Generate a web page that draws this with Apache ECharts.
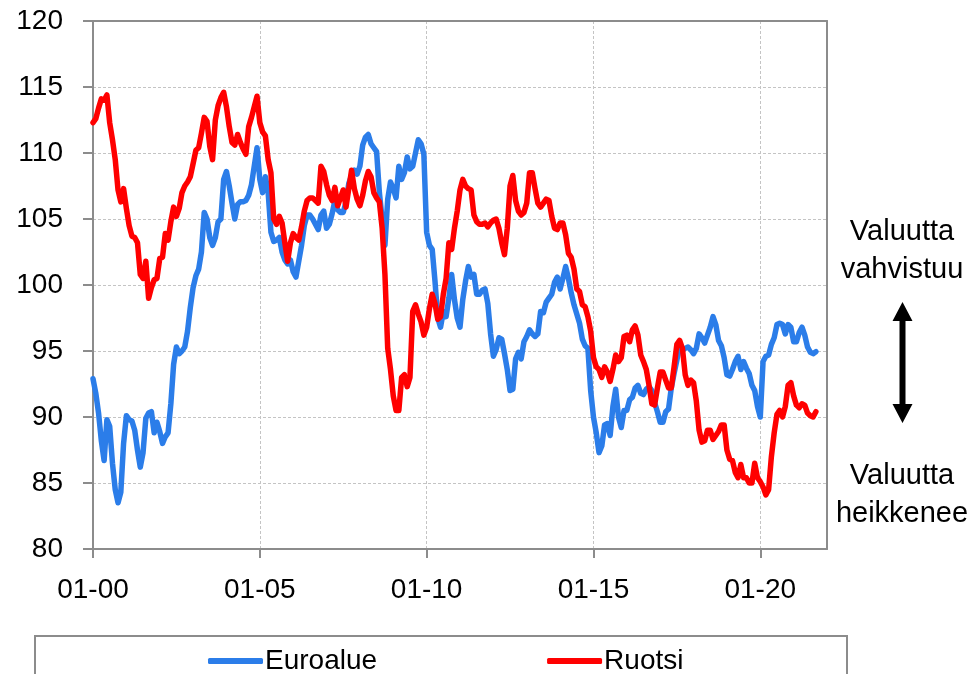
<!DOCTYPE html>
<html>
<head>
<meta charset="utf-8">
<script src="https://cdn.jsdelivr.net/npm/echarts@6/dist/echarts.min.js"></script>
<style>
  html, body { margin: 0; padding: 0; background: #fff; }
  #chart { width: 978px; height: 674px; }
</style>
</head>
<body>
<div id="chart"></div>
<script>
// kuukausittaiset arvot 01-2000 ... 09-2021
const euroalue = [
  92.9, 91.8, 90.3, 88.2, 86.7, 89.8, 89.3, 86.5, 84.5, 83.5, 84.3, 88.0,
  90.1, 89.8, 89.7, 89.0, 87.5, 86.2, 87.3, 89.9, 90.3, 90.4, 88.8, 89.6,
  88.9, 88.0, 88.5, 88.8, 91.0, 94.0, 95.3, 94.8, 95.0, 95.3, 96.5, 98.3,
  99.8, 100.7, 101.2, 102.5, 105.5, 105.0, 103.6, 103.0, 103.6, 104.8, 105.0, 108.0,
  108.6, 107.5, 106.2, 105.0, 106.1, 106.3, 106.3, 106.4, 106.8, 107.6, 109.0, 110.4,
  108.0, 107.0, 108.2, 107.0, 104.0, 103.3, 103.4, 103.6, 102.5, 101.9, 101.6, 101.9,
  101.0, 100.6, 101.8, 103.0, 104.5, 105.3, 105.3, 105.0, 104.6, 104.2, 105.3, 105.6,
  104.3, 104.6, 105.4, 106.4, 105.7, 105.5, 105.5, 106.3, 107.7, 108.3, 108.7, 108.4,
  109.0, 110.6, 111.2, 111.4, 110.7, 110.4, 110.1, 107.0, 105.0, 103.0, 106.5, 107.8,
  107.3, 106.6, 109.0, 108.0, 108.5, 109.7, 108.8, 109.0, 110.0, 111.0, 110.7, 109.9,
  104.0, 103.0, 102.7, 100.3, 97.5, 96.8, 98.0, 97.6, 99.0, 100.8, 98.9, 97.5,
  96.8, 98.9, 100.3, 101.4, 100.6, 100.8, 99.3, 99.3, 99.6, 99.7, 98.6, 96.3,
  94.6, 95.1, 96.0, 95.9, 94.8, 93.6, 92.0, 92.1, 94.4, 94.9, 94.4, 95.7,
  96.1, 96.6, 96.3, 96.1, 96.3, 98.0, 97.9, 98.7, 99.0, 99.3, 100.2, 100.6,
  99.7, 100.5, 101.4, 100.5, 99.4, 98.5, 97.8, 97.1, 95.9, 95.4, 95.2, 92.0,
  90.0, 88.8, 87.3, 87.8, 89.4, 89.5, 88.6, 90.8, 92.1, 90.0, 89.2, 90.5,
  90.5, 91.3, 91.5, 92.2, 92.4, 91.8, 91.7, 92.1, 92.3, 92.0, 91.1, 90.4,
  89.6, 89.6, 90.4, 90.6, 92.2, 93.3, 94.3, 95.4, 95.1, 95.2, 95.3, 95.1,
  94.8, 95.2, 96.3, 96.0, 95.6, 96.2, 96.8, 97.6, 97.0, 95.8, 95.4, 94.5,
  93.2, 93.1, 93.6, 94.2, 94.6, 93.6, 94.2, 93.7, 93.3, 92.4, 92.0, 90.8,
  90.0, 94.2, 94.6, 94.7, 95.5, 96.0, 97.0, 97.1, 97.0, 96.3, 97.0, 96.8,
  95.7, 95.7, 96.4, 96.8, 96.2, 95.3, 94.9, 94.8, 94.95
]

const ruotsi = [
  112.3, 112.6, 113.4, 114.1, 114.0, 114.4, 112.3, 111.0, 109.5, 107.2, 106.3, 107.3,
  105.8, 104.5, 103.7, 103.6, 103.2, 100.8, 100.5, 101.8, 99.0, 99.8, 100.4, 100.5,
  102.0, 102.1, 103.9, 103.4, 104.8, 105.9, 105.2, 105.8, 107.0, 107.5, 107.8, 108.2,
  109.2, 110.2, 110.4, 111.5, 112.7, 112.4, 110.5, 109.5, 112.5, 113.6, 114.2, 114.6,
  113.5, 112.0, 110.8, 110.6, 111.4, 110.8, 110.3, 109.9, 112.0, 112.7, 113.5, 114.3,
  112.3, 111.6, 111.3, 109.5, 108.5, 105.0, 104.6, 105.2, 104.7, 103.2, 101.8, 103.2,
  103.9, 103.6, 103.4, 104.4, 105.6, 106.4, 106.6, 106.6, 106.4, 106.2, 109.0, 108.6,
  107.6, 106.8, 106.4, 107.4, 106.0, 106.6, 107.2, 105.9, 107.3, 108.7, 107.3, 106.5,
  106.0, 106.8, 107.9, 108.6, 108.2, 107.0, 106.6, 106.3, 104.3, 100.8, 95.2, 93.6,
  91.6, 90.5, 90.5, 93.0, 93.2, 92.3, 93.0, 98.0, 98.5, 97.8, 97.2, 96.2,
  96.8, 98.2, 99.3, 98.6, 97.4, 97.6, 99.3, 100.5, 103.2, 102.7, 104.3, 105.6,
  107.2, 108.0, 107.5, 107.3, 107.2, 105.3, 104.8, 104.6, 104.6, 104.7, 104.4, 104.7,
  104.9, 105.0, 104.3, 103.2, 102.3, 104.3, 107.5, 108.3, 106.4, 105.6, 105.3, 105.5,
  106.2, 108.5, 108.5, 107.3, 106.2, 105.9, 106.2, 106.5, 106.4, 105.2, 104.3, 104.2,
  104.7, 104.7, 103.8, 102.4, 102.1, 101.2, 99.7, 99.5, 98.5, 98.35, 97.6, 96.5,
  94.5, 93.8, 93.6, 93.0, 93.8, 93.4, 92.7, 93.6, 94.7, 94.2, 94.5, 96.1,
  96.2, 95.7, 96.6, 96.9, 96.2, 94.7, 94.2, 93.6, 92.4, 91.0, 90.9, 92.2,
  93.4, 93.4, 92.8, 92.2, 92.2, 93.8, 95.5, 95.8, 95.2, 93.2, 92.4, 92.8,
  92.6, 91.2, 89.0, 88.1, 88.2, 89.0, 89.0, 88.3, 88.6, 88.9, 89.4, 89.4,
  87.5, 86.8, 86.7, 85.8, 85.4, 86.4, 85.4, 85.4, 85.0, 85.0, 86.5, 85.4,
  85.1, 84.7, 84.1, 84.5, 87.0, 88.8, 90.2, 90.5, 90.0, 90.8, 92.4, 92.6,
  91.6, 90.9, 90.7, 91.0, 90.9, 90.3, 90.1, 90.0, 90.4
]

// x-akseli: kuukaudet 01-00 ... 01-22
const months = []
for (let y = 0; y <= 22; y++) {
  for (let m = 1; m <= 12; m++) {
    if (y === 22 && m > 1) break
    months.push(String(m).padStart(2, '0') + '-' + String(y).padStart(2, '0'))
  }
}

const FONT = 'Liberation Sans, Arial, sans-serif'
const AXIS_GRAY = '#8c8c8c'
const BLUE = '#2b7de9'
const RED = '#ff0000'
const everyFive = (i) => i % 60 === 0

const options = {
  animation: false,
  backgroundColor: '#fff',
  textStyle: { fontFamily: FONT },
  grid: {
    left: 93,
    top: 21,
    right: 151,
    bottom: 125,
    containLabel: false
  },
  legend: {
    left: 203,
    top: 642,
    icon: 'roundRect',
    itemWidth: 55,
    itemHeight: 6,
    itemGap: 170,
    textStyle: { fontSize: 28, color: '#000', fontFamily: FONT, padding: [0, 0, 0, -3] },
    data: ['Euroalue', 'Ruotsi']
  },
  xAxis: [
    {
      type: 'category',
      data: months,
      boundaryGap: false,
      axisLine: { lineStyle: { color: AXIS_GRAY, width: 2 } },
      axisTick: { show: true, interval: everyFive, length: 9, lineStyle: { color: AXIS_GRAY, width: 2 } },
      axisLabel: { interval: everyFive, margin: 27, fontSize: 28, color: '#000', fontFamily: FONT },
      splitLine: { show: true, interval: everyFive, lineStyle: { color: '#c4c4c4', type: [3, 2], width: 1 } }
    },
    {
      type: 'category',
      data: months,
      position: 'top',
      boundaryGap: false,
      axisLine: { lineStyle: { color: AXIS_GRAY, width: 2 } },
      axisTick: { show: false },
      axisLabel: { show: false },
      splitLine: { show: false },
      z: 5
    }
  ],
  yAxis: [
    {
      type: 'value',
      min: 80,
      max: 120,
      interval: 5,
      axisLine: { show: true, lineStyle: { color: AXIS_GRAY, width: 2 } },
      axisTick: { show: true, length: 10, lineStyle: { color: AXIS_GRAY, width: 2 } },
      axisLabel: { margin: 30, fontSize: 28, color: '#000', fontFamily: FONT },
      splitLine: { show: true, lineStyle: { color: '#c4c4c4', type: [3, 2], width: 1 } }
    },
    {
      type: 'value',
      min: 80,
      max: 120,
      interval: 5,
      position: 'right',
      axisLine: { show: true, lineStyle: { color: AXIS_GRAY, width: 2 } },
      axisTick: { show: false },
      axisLabel: { show: false },
      splitLine: { show: false },
      z: 5
    }
  ],
  graphic: [
    {
      type: 'rect',
      shape: { x: 35, y: 636, width: 812, height: 80 },
      style: { fill: 'none', stroke: AXIS_GRAY, lineWidth: 2 },
      silent: true
    },
    {
      type: 'text',
      style: { text: 'Valuutta', x: 902, y: 232, font: '29px ' + FONT, fill: '#000', textAlign: 'center', textVerticalAlign: 'middle' }
    },
    {
      type: 'text',
      style: { text: 'vahvistuu', x: 902, y: 270, font: '29px ' + FONT, fill: '#000', textAlign: 'center', textVerticalAlign: 'middle' }
    },
    {
      type: 'polygon',
      shape: {
        points: [
          [902.5, 302], [912.5, 321], [905.5, 321], [905.5, 404], [912.5, 404],
          [902.5, 423], [892.5, 404], [899.5, 404], [899.5, 321], [892.5, 321]
        ]
      },
      style: { fill: '#000' }
    },
    {
      type: 'text',
      style: { text: 'Valuutta', x: 902, y: 476, font: '29px ' + FONT, fill: '#000', textAlign: 'center', textVerticalAlign: 'middle' }
    },
    {
      type: 'text',
      style: { text: 'heikkenee', x: 902, y: 514, font: '29px ' + FONT, fill: '#000', textAlign: 'center', textVerticalAlign: 'middle' }
    }
  ],
  series: [
    {
      name: 'Euroalue',
      type: 'line',
      data: euroalue,
      symbol: 'none',
      color: BLUE,
      lineStyle: { width: 5.5, color: BLUE, cap: 'round', join: 'round' }
    },
    {
      name: 'Ruotsi',
      type: 'line',
      data: ruotsi,
      symbol: 'none',
      color: RED,
      lineStyle: { width: 5.5, color: RED, cap: 'round', join: 'round' }
    }
  ]
}

const chart = echarts.init(document.getElementById('chart'))
chart.setOption(options)
</script>
</body>
</html>
